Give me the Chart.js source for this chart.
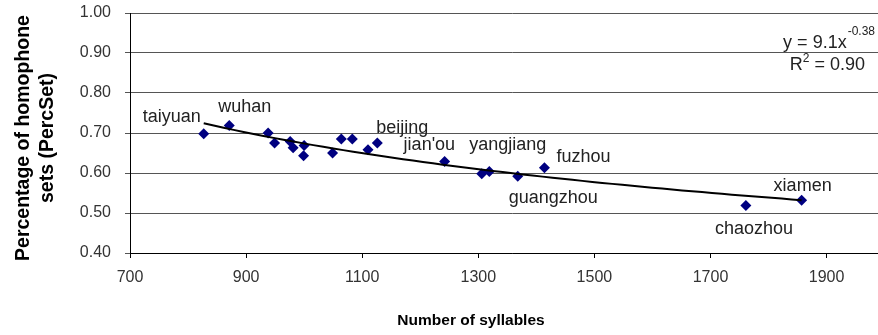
<!DOCTYPE html>
<html>
<head>
<meta charset="utf-8">
<script src="https://cdn.jsdelivr.net/npm/chart.js@4.4.0/dist/chart.umd.min.js"></script>
<style>
  html, body { margin: 0; padding: 0; background: #fff; overflow: hidden; }
  #wrap { width: 900px; height: 335px; position: relative; }
</style>
</head>
<body>
<div id="wrap"><canvas id="chart"></canvas></div>
<script>
// Syllable inventory size vs. share of homophone sets, per dialect
const syllables = [827, 871, 938, 949, 976, 981, 1000, 999, 1049, 1064, 1083, 1110, 1126, 1242, 1306, 1319, 1368, 1414, 1761, 1857];
const percSet   = [0.698, 0.719, 0.700, 0.675, 0.679, 0.663, 0.669, 0.643, 0.650, 0.685, 0.685, 0.658, 0.675, 0.629, 0.598, 0.604, 0.592, 0.613, 0.519, 0.532];
const dialects  = ['taiyuan', 'wuhan', '', '', '', '', '', '', '', '', '', '', 'beijing', "jian'ou", '', 'yangjiang', 'guangzhou', 'fuzhou', 'chaozhou', 'xiamen'];

const xTickValues = [700, 900, 1100, 1300, 1500, 1700, 1900];
const yTickValues = [0.40, 0.50, 0.60, 0.70, 0.80, 0.90, 1.00];

const equationText = 'y = 9.1x';
const equationExp  = '-0.38';
const rSquaredText = 'R';
const rSquaredRest = ' = 0.90';

const xTitle = 'Number of syllables';
const yTitle = ['Percentage of homophone', 'sets (PercSet)'];

// where each dialect name sits relative to its marker
const labelPlacement = {
  'taiyuan':   { dx: -3,  dy: -12, align: 'right' },
  'wuhan':     { dx: -11, dy: -13, align: 'left' },
  'beijing':   { dx: -1,  dy: -10, align: 'left' },
  "jian'ou":   { dx: -41, dy: -11, align: 'left' },
  'yangjiang': { dx: -20, dy: -21, align: 'left' },
  'fuzhou':    { dx: 12,  dy: -6,  align: 'left' },
  'guangzhou': { dx: -9,  dy: 27,  align: 'left' },
  'chaozhou':  { dx: -31, dy: 29,  align: 'left' },
  'xiamen':    { dx: -28, dy: -9,  align: 'left' }
};

const FONT = "'Liberation Sans', Arial, Helvetica, sans-serif";

// power trend y = a * x^b, least squares on ln-ln
function powerFit(xs, ys) {
  const n = xs.length;
  let sx = 0, sy = 0, sxx = 0, sxy = 0;
  for (let i = 0; i < n; i++) {
    const lx = Math.log(xs[i]), ly = Math.log(ys[i]);
    sx += lx; sy += ly; sxx += lx * lx; sxy += lx * ly;
  }
  const b = (n * sxy - sx * sy) / (n * sxx - sx * sx);
  const a = Math.exp((sy - b * sx) / n);
  return { a, b };
}
const fit = powerFit(syllables, percSet);
const xMin = Math.min(...syllables), xMax = Math.max(...syllables);
const trend = [];
for (let k = 0; k <= 60; k++) {
  const x = xMin + (xMax - xMin) * k / 60;
  trend.push({ x, y: fit.a * Math.pow(x, fit.b) });
}

const points = syllables.map((x, i) => ({ x, y: percSet[i] }));

const annotations = {
  id: 'annotations',
  afterDatasetsDraw(chart) {
    const ctx = chart.ctx;
    const meta = chart.getDatasetMeta(1);
    ctx.save();
    ctx.fillStyle = '#222';
    ctx.font = '18px ' + FONT;
    ctx.textBaseline = 'alphabetic';
    dialects.forEach((name, i) => {
      if (!name) return;
      const p = labelPlacement[name];
      const el = meta.data[i];
      ctx.textAlign = p.align;
      ctx.fillText(name, el.x + p.dx, el.y + p.dy);
    });

    // trend equation, top right of the visible area
    const right = 875;
    ctx.font = '12px ' + FONT;
    ctx.textAlign = 'right';
    const expW = ctx.measureText(equationExp).width;
    ctx.fillText(equationExp, right, 35);
    ctx.font = '18px ' + FONT;
    ctx.fillText(equationText, right - expW - 1, 48);

    const r2Right = 865;
    ctx.fillText(rSquaredRest, r2Right, 70);
    const restW = ctx.measureText(rSquaredRest).width;
    ctx.font = '12px ' + FONT;
    ctx.fillText('2', r2Right - restW, 62);
    const supW = ctx.measureText('2').width;
    ctx.font = '18px ' + FONT;
    ctx.fillText(rSquaredText, r2Right - restW - supW, 70);

    // axis titles
    ctx.fillStyle = '#000';
    ctx.font = 'bold 15.5px ' + FONT;
    ctx.textAlign = 'center';
    ctx.fillText(xTitle, 471, 324.5);

    ctx.font = 'bold 19.5px ' + FONT;
    const midY = 138;
    [[yTitle[0], 29], [yTitle[1], 53]].forEach(([t, bx]) => {
      ctx.save();
      ctx.translate(bx, midY);
      ctx.rotate(-Math.PI / 2);
      ctx.fillText(t, 0, 0);
      ctx.restore();
    });
    ctx.restore();
  }
};

new Chart(document.getElementById('chart'), {
  type: 'scatter',
  data: {
    datasets: [
      {
        type: 'line',
        label: 'Power trend',
        data: trend,
        borderColor: '#000',
        borderWidth: 2,
        pointRadius: 0,
        fill: false,
        tension: 0,
        order: 0
      },
      {
        label: 'PercSet',
        data: points,
        pointStyle: 'rectRot',
        pointRadius: 5.5,
        pointHoverRadius: 5.5,
        backgroundColor: '#000080',
        borderColor: '#000080',
        borderWidth: 0,
        order: 1
      }
    ]
  },
  options: {
    responsive: true,
    maintainAspectRatio: false,
    animation: false,
    events: [],
    layout: { padding: { left: 0, right: 0, top: 13, bottom: 0 } },
    plugins: {
      legend: { display: false },
      tooltip: { enabled: false }
    },
    scales: {
      x: {
        type: 'linear',
        min: 700,
        max: 2017,
        afterBuildTicks(scale) { scale.ticks = xTickValues.map(v => ({ value: v })); },
        afterFit(scale) { scale.height = 82; },
        ticks: {
          includeBounds: false,
          color: '#333',
          font: { family: FONT, size: 16 },
          padding: 10,
          maxRotation: 0,
          autoSkip: false,
          callback: v => String(v)
        },
        grid: { drawOnChartArea: false, drawTicks: true, tickLength: 5, color: '#000' },
        border: { color: '#000', width: 1 }
      },
      y: {
        min: 0.4,
        max: 1.0,
        afterBuildTicks(scale) { scale.ticks = yTickValues.map(v => ({ value: v })); },
        afterFit(scale) {
          scale.width = 130;
          scale.paddingTop = 0;
          scale.paddingBottom = 0;
        },
        ticks: {
          color: '#333',
          font: { family: FONT, size: 16 },
          padding: 14,
          autoSkip: false,
          callback: v => Number(v).toFixed(2)
        },
        grid: { color: '#555', tickLength: 5, lineWidth: 1 },
        border: { color: '#000', width: 1 }
      }
    }
  },
  plugins: [annotations]
});
</script>
</body>
</html>
